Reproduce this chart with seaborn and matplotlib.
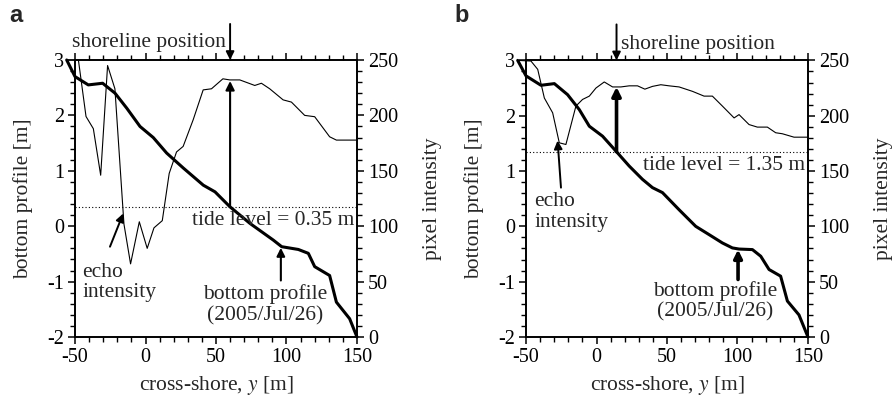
import matplotlib
matplotlib.use('Agg')
import matplotlib.pyplot as plt
import numpy as np
import pandas as pd
import seaborn as sns
from matplotlib.ticker import MultipleLocator

# ---------------- data ----------------
a_prof_x = [-55.9, -50, -40.6, -30.4, -21.6, -13.3, -3.9, 5.5, 15, 26.8, 41, 49.3, 59.9,
            74.1, 90.6, 96.6, 108.4, 115.5, 120, 130.6, 135.4, 144.8, 150]
a_prof_y = [3.0, 2.70, 2.55, 2.58, 2.40, 2.13, 1.80, 1.60, 1.32, 1.05, 0.74, 0.62, 0.35,
            0.05, -0.25, -0.37, -0.42, -0.49, -0.73, -0.89, -1.37, -1.67, -2.0]
a_echo_x = [-55.9, -47.6, -42.2, -37, -31.8, -26.9, -21.7, -15.3, -10.6, -4.4, 1.2, 6, 11.9,
            16.8, 22, 26.7, 33.8, 40.9, 46.8, 54.9, 59.8, 66.9, 77.5, 82.2, 88.1, 97.6,
            103.5, 112.9, 120, 130.6, 135.4, 150]
a_echo_v = [250, 250, 199, 188, 146, 245, 224, 102, 66, 104, 80, 98.5, 105,
            147.6, 167, 172, 196, 223, 224, 233, 232, 232, 227, 229, 224, 214,
            212, 200, 198.8, 180.7, 177.7, 177.7]
b_prof_x = [-55.9, -50, -39.4, -29.9, -20.5, -12.2, -5.1, 4.3, 13.8, 23.2, 32.6, 39.7, 46.8,
            58.6, 70.4, 79.9, 89.3, 96.4, 101.1, 110.6, 116.5, 122.4, 130.6, 135.4, 143.6, 150]
b_prof_y = [3.0, 2.72, 2.55, 2.58, 2.38, 2.11, 1.81, 1.63, 1.36, 1.09, 0.85, 0.70, 0.61,
            0.30, 0.0, -0.15, -0.30, -0.39, -0.41, -0.42, -0.54, -0.78, -0.90, -1.35, -1.60, -2.0]
b_echo_x = [-55.9, -46.5, -41.7, -37.0, -31.1, -26.4, -21.7, -14.6, -9.9, -5.1, -0.4, 5.5,
            11.4, 17.3, 23.2, 29.1, 34.3, 39.7, 45.6, 51.5, 58.6, 68.1, 76.3, 82.2, 89.3,
            97.6, 101.1, 108.2, 114.1, 121.2, 127.1, 131.8, 140.1, 150]
b_echo_v = [250, 249.4, 241.9, 216, 202.6, 175.5, 174, 208.7, 214.7, 217.7, 225, 230.5,
            226, 226, 227, 227, 224, 226.5, 228, 227, 226, 222, 217.7, 217.7, 208.7,
            198, 201, 192, 189.7, 189.7, 184.6, 183.7, 180.6, 180.6]
tide_levels = [0.35, 1.35]
shoreline_x = [60.0, 14.2]
panel_labels = ['a', 'b']
x_ticks = [-50, 0, 50, 100, 150]
y_ticks = [-2, -1, 0, 1, 2, 3]
r_ticks = [0, 50, 100, 150, 200, 250]

# ---------------- style ----------------
sns.set_style('ticks')
plt.rcParams['font.family'] = ['Liberation Serif', 'DejaVu Serif']
plt.rcParams['mathtext.fontset'] = 'stix'
FS = 15.5    # labels / annotation text
TFS = 14.5   # tick labels

fig = plt.figure(figsize=(8.92, 4.08), dpi=100)
positions = [[0.0841, 0.174, 0.3161, 0.679], [0.5897, 0.174, 0.3161, 0.678]]

panels = [
    dict(px=a_prof_x, py=a_prof_y, ex=a_echo_x, ev=a_echo_v),
    dict(px=b_prof_x, py=b_prof_y, ex=b_echo_x, ev=b_echo_v),
]

for i, p in enumerate(panels):
    ax = fig.add_axes(positions[i])
    ax2 = ax.twinx()
    prof = pd.DataFrame({'y': p['px'], 'z': p['py']})
    echo = pd.DataFrame({'y': p['ex'], 'v': p['ev']})
    sns.lineplot(data=prof, x='y', y='z', ax=ax, color='black', lw=2.2, sort=False,
                 estimator=None, clip_on=False, zorder=3)
    sns.lineplot(data=echo, x='y', y='v', ax=ax2, color='black', lw=0.8, sort=False,
                 estimator=None, clip_on=False)
    ax.set_xlim(-50, 150)
    ax.set_ylim(-2, 3)
    ax2.set_ylim(0, 250)
    ax.set_xticks(x_ticks)
    ax.set_yticks(y_ticks)
    ax2.set_yticks(r_ticks)
    ax.xaxis.set_minor_locator(MultipleLocator(10))
    ax.yaxis.set_minor_locator(MultipleLocator(0.2))
    ax2.yaxis.set_minor_locator(MultipleLocator(10))
    ax.set_xticklabels([str(t) for t in x_ticks])
    ax.set_yticklabels([str(t) for t in y_ticks])
    ax2.set_yticklabels([str(t) for t in r_ticks])
    for a_ in (ax, ax2):
        for s in a_.spines.values():
            s.set_visible(True)
            s.set_linewidth(1.2)
            s.set_color('black')
        a_.tick_params(which='major', direction='out', length=5, width=1.1,
                       labelsize=TFS, colors='black', pad=3)
        a_.tick_params(which='minor', direction='out', length=3.5, width=1.0, colors='black')
    ax.tick_params(which='both', top=True)
    ax.set_xlabel('cross-shore, $y$ [m]', fontsize=FS, labelpad=5)
    ax.set_ylabel('bottom profile [m]', fontsize=FS, labelpad=10)
    ax2.set_ylabel('pixel intensity', fontsize=FS, labelpad=18)

    # tide line
    tl = tide_levels[i]
    ax.axhline(tl, color='black', lw=0.8, ls=(0, (1, 2)), zorder=2)
    ax.text(148, tl - 0.25, f'tide level = {tl:.2f} m',
            ha='right', va='center', fontsize=FS)

    # shoreline arrow
    sx = shoreline_x[i]
    ax.annotate('', xy=(sx, 1.0), xycoords=('data', 'axes fraction'),
                xytext=(sx, 1.13), textcoords=('data', 'axes fraction'),
                arrowprops=dict(arrowstyle='-|>', color='black', lw=1.4,
                                mutation_scale=12, shrinkA=0, shrinkB=0),
                annotation_clip=False)
    if i == 0:
        ax.text(sx - 3, 1.062, 'shoreline position', transform=ax.get_xaxis_transform(),
                ha='right', va='center', fontsize=FS)
    else:
        ax.text(sx + 3, 1.058, 'shoreline position', transform=ax.get_xaxis_transform(),
                ha='left', va='center', fontsize=FS)

    if i == 0:
        ax.annotate('', xy=(sx, 2.62), xytext=(sx, tl),
                    arrowprops=dict(arrowstyle='-|>', color='black', lw=1.5,
                                    mutation_scale=13, shrinkA=0, shrinkB=0))
        ax.annotate('', xy=(-15.8, 0.23), xytext=(-25.2, -0.37),
                    arrowprops=dict(arrowstyle='-|>', color='black', lw=1.4,
                                    mutation_scale=12, shrinkA=0, shrinkB=0))
        ax.text(-44.8, -1.02, 'echo\nintensity', ha='left', va='center', fontsize=FS,
                linespacing=1.1)
        ax.annotate('', xy=(96, -0.39), xytext=(96, -0.98),
                    arrowprops=dict(arrowstyle='-|>', color='black', lw=1.5,
                                    mutation_scale=12, shrinkA=0, shrinkB=0))
        ax.text(84.6, -1.42, 'bottom profile\n(2005/Jul/26)', ha='center', va='center',
                fontsize=FS, linespacing=1.1)
    else:
        ax.annotate('', xy=(sx, 2.52), xytext=(sx, tl),
                    arrowprops=dict(arrowstyle='-|>', color='black', lw=2.6,
                                    mutation_scale=13, shrinkA=0, shrinkB=0))
        ax.annotate('', xy=(-27.6, 1.55), xytext=(-25.2, 0.70),
                    arrowprops=dict(arrowstyle='-|>', color='black', lw=1.4,
                                    mutation_scale=12, shrinkA=0, shrinkB=0))
        ax.text(-44.2, 0.26, 'echo\nintensity', ha='left', va='center', fontsize=FS,
                linespacing=1.1)
        ax.annotate('', xy=(100.4, -0.42), xytext=(100.4, -0.96),
                    arrowprops=dict(arrowstyle='-|>', color='black', lw=2.6,
                                    mutation_scale=12, shrinkA=0, shrinkB=0))
        ax.text(84.4, -1.36, 'bottom profile\n(2005/Jul/26)', ha='center', va='center',
                fontsize=FS, linespacing=1.1)

fig.text(16 / 892, 1 - 16 / 408, panel_labels[0], ha='center', va='center',
         fontsize=17, fontweight='bold', family='Liberation Sans')
fig.text(462 / 892, 1 - 16 / 408, panel_labels[1], ha='center', va='center',
         fontsize=17, fontweight='bold', family='Liberation Sans')

fig.savefig('out.png', dpi=100)
